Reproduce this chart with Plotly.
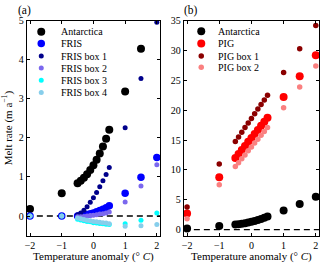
import plotly.graph_objects as go

# ---------------- data ----------------
temps = [-2, -1, -0.5, -0.4, -0.3, -0.2, -0.1, 0, 0.1, 0.2, 0.3, 0.4, 0.5, 1, 1.5, 2]

antarctica = [0.18, 0.58, 0.84, 0.90, 0.98, 1.07, 1.18, 1.30, 1.44, 1.60, 1.78, 1.98, 2.21, 3.19, 4.28, 5.5]

fris = [0.0, 0.0, 0.0, 0.01, 0.02, 0.04, 0.06, 0.08, 0.11, 0.14, 0.17, 0.21, 0.26, 0.58, 0.99, 1.50]
fris_box1 = [0.0, 0.0, 0.03, 0.08, 0.15, 0.24, 0.35, 0.47, 0.60, 0.75, 0.90, 1.06, 1.24, 2.26, 3.52, 4.96]
fris_box2 = [0.0, 0.0, -0.02, -0.02, -0.01, 0.0, 0.01, 0.02, 0.03, 0.05, 0.06, 0.08, 0.10, 0.36, 0.77, 1.31]
fris_box3 = [0.0, 0.0, -0.08, -0.10, -0.12, -0.14, -0.15, -0.17, -0.18, -0.19, -0.20, -0.21, -0.22, -0.20, -0.11, 0.08]
fris_box4 = [0.0, 0.0, -0.05, -0.07, -0.09, -0.11, -0.12, -0.14, -0.15, -0.16, -0.17, -0.18, -0.20, -0.26, -0.25, -0.22]

pig = [2.7, 8.75, 12.0, 12.67, 13.35, 14.0, 14.7, 15.35, 16.0, 16.7, 17.4, 18.05, 18.75, 22.2, 25.7, 29.2]
pig_box1 = [3.8, 11.0, 14.75, 15.5, 16.3, 17.1, 17.85, 18.6, 19.4, 20.2, 20.95, 21.7, 22.5, 26.3, 30.3, 34.2]
pig_box2 = [1.8, 7.5, 10.55, 11.2, 11.85, 12.5, 13.2, 13.85, 14.5, 15.15, 15.8, 16.45, 17.1, 20.4, 23.9, 27.4]

x_ticks = [-2, -1, 0, 1, 2]
panel_a_names = ["Antarctica", "FRIS", "FRIS box 1", "FRIS box 2", "FRIS box 3", "FRIS box 4"]
panel_b_names = ["Antarctica", "PIG", "PIG box 1", "PIG box 2"]

# ---------------- styles ----------------
W, H = 320, 263
FONT = "Liberation Serif"
panel_a = [(antarctica, "black", 8), (fris, "#0000ff", 7.5), (fris_box1, "#00008b", 5),
           (fris_box2, "#7b68ee", 5), (fris_box3, "#00ffff", 5), (fris_box4, "#87ceeb", 5)]
panel_b = [(antarctica, "black", 8), (pig, "#ff0000", 8), (pig_box1, "#8b0000", 5.5),
           (pig_box2, "#fa8080", 5.5)]

fig = go.Figure()
for (vals, col, sz), name in zip(panel_a, panel_a_names):
    fig.add_trace(go.Scatter(x=temps, y=vals, mode="markers", name=name, showlegend=False,
                             marker=dict(color=col, size=sz, line=dict(width=0)),
                             xaxis="x", yaxis="y", cliponaxis=True))
for (vals, col, sz), name in zip(panel_b, panel_b_names):
    fig.add_trace(go.Scatter(x=temps, y=vals, mode="markers", name=name, showlegend=False,
                             marker=dict(color=col, size=sz, line=dict(width=0)),
                             xaxis="x2", yaxis="y2", cliponaxis=True))

def px_x(p):
    return p / W

def px_y(p):
    return 1 - p / H

ydom = [px_y(235), px_y(16)]
axis_common = dict(showline=True, linecolor="black", linewidth=1, mirror="allticks",
                   ticks="inside", ticklen=3, tickcolor="black", tickwidth=1,
                   showgrid=False, zeroline=False,
                   tickfont=dict(family=FONT, size=10, color="black"))
xtitle = dict(text="Temperature anomaly (° <i>C</i>)", font=dict(family=FONT, size=11, color="black"),
              standoff=3)

fig.update_layout(
    width=W, height=H, margin=dict(l=0, r=0, t=0, b=0),
    paper_bgcolor="white", plot_bgcolor="white", showlegend=False,
    xaxis=dict(domain=[px_x(25), px_x(159)], range=[-2.1, 2.1], tickvals=x_ticks,
               anchor="y", title=xtitle, **axis_common),
    yaxis=dict(domain=ydom, range=[-0.5, 5], dtick=1, tick0=0, anchor="x",
               title=dict(text="Melt rate (m a<sup>−1</sup>)", font=dict(family=FONT, size=11, color="black"),
                          standoff=4),
               **axis_common),
    xaxis2=dict(domain=[px_x(183), px_x(319)], range=[-2.1, 2.1], tickvals=x_ticks,
                anchor="y2", title=xtitle, **axis_common),
    yaxis2=dict(domain=ydom, range=[-1, 35], dtick=5, tick0=0, anchor="x2", **axis_common),
)

# zero reference lines
for xr, yr in [("x domain", "y"), ("x2 domain", "y2")]:
    fig.add_shape(type="line", xref=xr, yref=yr, x0=0, x1=1, y0=0, y1=0,
                  line=dict(color="black", width=1.3, dash="6px,4px"), layer="below")

# panel labels
fig.add_annotation(text="(a)", xref="paper", yref="paper", x=px_x(15), y=px_y(6),
                   xanchor="left", yanchor="middle", showarrow=False, borderpad=0,
                   font=dict(family=FONT, size=11.5, color="black"))
fig.add_annotation(text="(b)", xref="paper", yref="paper", x=px_x(182), y=px_y(6),
                   xanchor="left", yanchor="middle", showarrow=False, borderpad=0,
                   font=dict(family=FONT, size=11.5, color="black"))

# legends (drawn manually for compact spacing)
def add_legend(entries, names, mx, tx, rows):
    for (vals, col, sz), name, ry in zip(entries, names, rows):
        r = sz / 2
        fig.add_shape(type="circle", xref="paper", yref="paper",
                      xsizemode="pixel", ysizemode="pixel",
                      xanchor=px_x(mx), yanchor=px_y(ry), x0=-r, x1=r, y0=-r, y1=r,
                      fillcolor=col, line=dict(width=0))
        fig.add_annotation(text=name, xref="paper", yref="paper", x=px_x(tx), y=px_y(ry),
                           xanchor="left", yanchor="middle", showarrow=False,
                           font=dict(family=FONT, size=10, color="black"))

add_legend(panel_a, panel_a_names, 39.5, 57, [27.3, 39.3, 52, 64.3, 76.7, 89.3])
add_legend(panel_b, panel_b_names, 200.5, 215.5, [26.7, 39.3, 52, 63.5])

fig.write_html("out.html", config={"displayModeBar": False},
               post_script="document.body.style.margin='0';document.body.style.overflow='hidden';")
